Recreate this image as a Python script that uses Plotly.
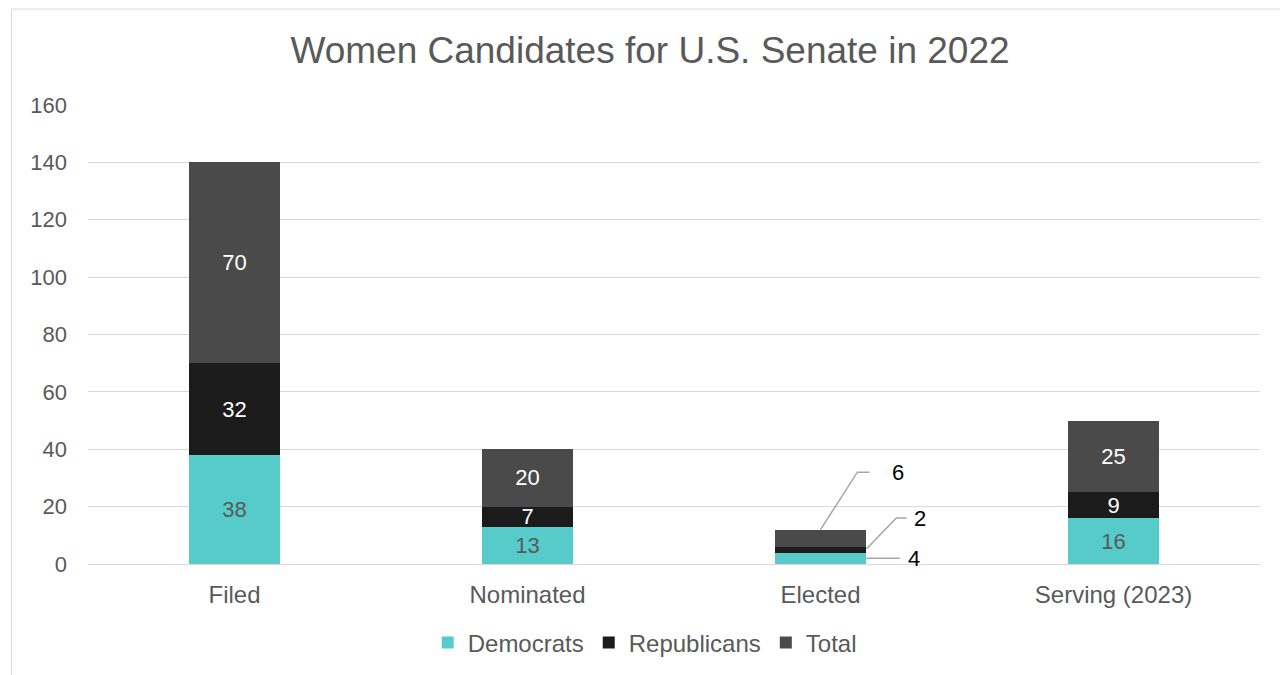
import plotly.graph_objects as go

categories = ["Filed", "Nominated", "Elected", "Serving (2023)"]
democrats = [38, 13, 4, 16]
republicans = [32, 7, 2, 9]
total = [70, 20, 6, 25]
y_ticks = [0, 20, 40, 60, 80, 100, 120, 140, 160]

C_DEM = "#56CBC9"
C_REP = "#1B1B1B"
C_TOT = "#4A4A4A"
FONT = "Liberation Sans, Arial, sans-serif"
GRAY = "#595959"

callout_cat = "Elected"

def inside_text(vals):
    return [("" if c == callout_cat else str(v)) for c, v in zip(categories, vals)]

fig = go.Figure()
for name, vals, col, tcol in [("Democrats", democrats, C_DEM, GRAY),
                              ("Republicans", republicans, C_REP, "white"),
                              ("Total", total, C_TOT, "white")]:
    fig.add_trace(go.Bar(name=name, x=categories, y=vals, marker_color=col,
                         text=inside_text(vals), textposition="inside", insidetextanchor="middle",
                         textangle=0, textfont=dict(color=tcol, size=22, family=FONT),
                         constraintext="none", width=0.31, marker_line_width=0))

# Callout labels for the Elected bar
i = categories.index(callout_cat)
d, r, t = democrats[i], republicans[i], total[i]
top = d + r + t
line_style = dict(color="#A6A6A6", width=1.5)
shapes = []
shapes.append(dict(type="path", xref="x", yref="y",
                   path=f"M {i} {top} L {i+0.126} 32 L {i+0.167} 32", line=line_style))
shapes.append(dict(type="path", xref="x", yref="y",
                   path=f"M {i+0.157} {d + r/2 + 0.3} L {i+0.259} 16 L {i+0.294} 16", line=line_style))
shapes.append(dict(type="path", xref="x", yref="y",
                   path=f"M {i+0.157} {d/2} L {i+0.27} {d/2}", line=line_style))
# outer chart border
shapes.append(dict(type="rect", xref="paper", yref="paper", x0=-0.0653, x1=1.03, y0=-0.3, y1=1.209,
                   line=dict(color="#D9D9D9", width=1), fillcolor="rgba(0,0,0,0)", layer="below"))

annotations = [
    dict(x=i + 0.266, y=32, xref="x", yref="y", text=str(t), showarrow=False,
         font=dict(size=22, color="black", family=FONT)),
    dict(x=i + 0.341, y=16, xref="x", yref="y", text=str(r), showarrow=False,
         font=dict(size=22, color="black", family=FONT)),
    dict(x=i + 0.32, y=d / 2, xref="x", yref="y", text=str(d), showarrow=False,
         font=dict(size=22, color="black", family=FONT)),
]

fig.update_layout(
    width=1280, height=675, autosize=False,
    barmode="stack",
    paper_bgcolor="white", plot_bgcolor="white",
    margin=dict(l=88, r=20, t=105, b=111, autoexpand=False),
    title=dict(text="Women Candidates for U.S. Senate in 2022", x=650/1280, xanchor="center",
               y=1 - 50/675, yanchor="middle", font=dict(size=37, color=GRAY, family=FONT)),
    font=dict(family=FONT, color=GRAY, size=22),
    xaxis=dict(showgrid=False, showline=True, linecolor="#D9D9D9", linewidth=1,
               tickfont=dict(size=24, color=GRAY), ticks="", ticklabelstandoff=9, tickangle=0),
    yaxis=dict(range=[0, 160], tickvals=y_ticks, showgrid=True, gridcolor="#D9D9D9", gridwidth=1,
               zeroline=True, zerolinecolor="#D9D9D9", zerolinewidth=1,
               tickfont=dict(size=22, color=GRAY), ticks="", ticklabelstandoff=20),
    legend=dict(orientation="h", x=0.475, xanchor="center",
                y=-0.172, yanchor="middle", font=dict(size=24, color=GRAY), traceorder="normal",
                itemwidth=30),
    shapes=shapes,
    annotations=annotations,
)

fig.write_html("out.html")
